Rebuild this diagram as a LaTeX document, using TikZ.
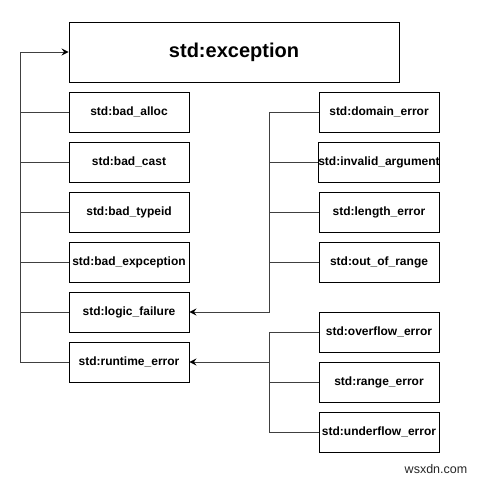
\documentclass[tikz,border=0pt]{standalone}
\usepackage{fontspec}
\setmainfont{Liberation Sans}
\usetikzlibrary{arrows.meta}

\tikzset{
  cls/.style={draw, line width=0.9pt, minimum width=120pt, minimum height=40pt, inner sep=0pt,
    font=\bfseries\fontsize{12}{14}\selectfont},
  edge/.style={black!75, line width=1pt},
  inherit/.style={edge, -{Stealth[length=7pt,width=7pt,inset=2.5pt,black]}}
}

\begin{document}
\begin{tikzpicture}[x=1pt,y=-1pt]
\useasboundingbox (0,0) rectangle (478,479);

\node [cls, minimum width=330pt, minimum height=60pt, font=\bfseries\fontsize{20}{24}\selectfont] (exception) at (234,52) {std:exception};

% left column
\node [cls] (alloc) at (129,112) {std:bad\_alloc};
\node [cls] (cast) at (129,162) {std:bad\_cast};
\node [cls] (typeid) at (129,212) {std:bad\_typeid};
\node [cls] (expception) at (129,262) {std:bad\_expception};
\node [cls] (logic) at (129,312) {std:logic\_failure};
\node [cls] (runtime) at (129,362) {std:runtime\_error};

% right column
\node [cls] (domain) at (379,112) {std:domain\_error};
\node [cls] (invalid) at (379,162) {std:invalid\_argument};
\node [cls] (length) at (379,212) {std:length\_error};
\node [cls] (outofrange) at (379,262) {std:out\_of\_range};
\node [cls] (overflow) at (379,332) {std:overflow\_error};
\node [cls] (rangeerr) at (379,382) {std:range\_error};
\node [cls] (underflow) at (379,432) {std:underflow\_error};

\coordinate (ltrunk) at (20,52);
\coordinate (utrunk) at (269,112);
\coordinate (btrunk) at (269,332);

\draw [inherit] (runtime.west) -| (ltrunk) -- (exception.west);
\foreach \n in {alloc,cast,typeid,expception,logic}
  \draw [edge] (\n.west) -- (\n.west -| ltrunk);

\draw [inherit] (domain.west) -- (utrunk) |- (logic.east);
\foreach \n in {invalid,length,outofrange}
  \draw [edge] (\n.west) -- (\n.west -| utrunk);

\draw [edge] (overflow.west) -- (btrunk) |- (underflow.west);
\draw [edge] (rangeerr.west) -- (rangeerr.west -| btrunk);
\draw [inherit] (btrunk |- runtime.east) -- (runtime.east);

\node [font=\fontsize{12.5}{14}\selectfont, text=black!85] (mark) at (436,469) {wsxdn.com};

\end{tikzpicture}
\end{document}
